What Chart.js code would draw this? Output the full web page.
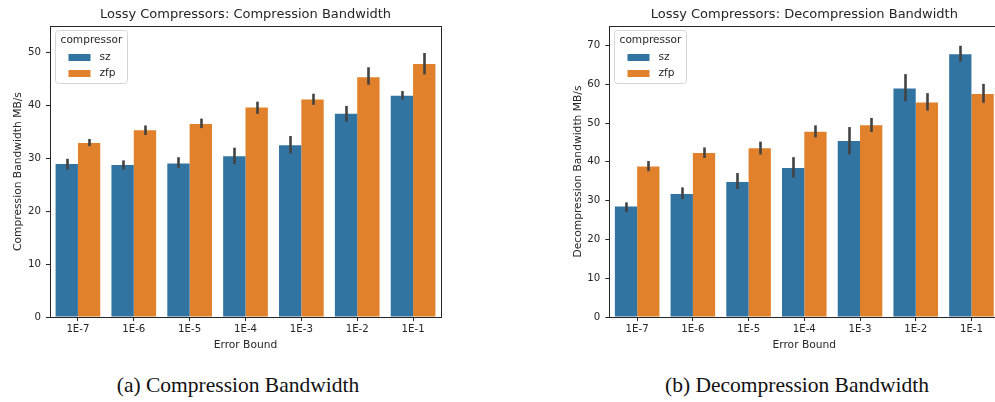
<!DOCTYPE html>
<html><head><meta charset="utf-8">
<script src="https://cdn.jsdelivr.net/npm/chart.js@4"></script>
<style>
html,body{margin:0;padding:0;width:995px;height:402px;overflow:hidden;background:#fff;}
.wrap{position:absolute;top:0;}
.cap{position:absolute;font-family:"Liberation Serif","DejaVu Serif",serif;font-size:21.5px;color:#111;white-space:nowrap;transform:translateX(-50%);line-height:1;}
</style></head><body>
<div class="wrap" style="left:0px;width:460px;height:360px"><canvas id="c1" width="460" height="360"></canvas></div>
<div class="wrap" style="left:560px;width:460px;height:360px"><canvas id="c2" width="460" height="360"></canvas></div>
<div class="cap" style="left:238px;top:375px">(a) Compression Bandwidth</div>
<div class="cap" style="left:797px;top:375px">(b) Decompression Bandwidth</div>
<script>
// ---- data ----
const errorBounds = ['1E-7','1E-6','1E-5','1E-4','1E-3','1E-2','1E-1'];
const seriesNames = ['sz','zfp'];

const compSz      = [28.9, 28.75, 29.0, 30.4, 32.45, 38.4, 41.8];
const compSzLow   = [27.9, 27.9, 28.2, 28.9, 30.9, 36.9, 41.1];
const compSzHigh  = [29.9, 29.6, 30.2, 32.0, 34.2, 39.9, 42.7];
const compZfp     = [32.9, 35.3, 36.5, 39.6, 41.1, 45.3, 47.8];
const compZfpLow  = [32.3, 34.4, 35.7, 38.4, 40.1, 43.9, 45.85];
const compZfpHigh = [33.65, 36.2, 37.5, 40.7, 42.2, 47.2, 49.9];

const decSz       = [28.5, 31.7, 34.8, 38.4, 45.35, 58.9, 67.7];
const decSzLow    = [27.05, 30.4, 33.0, 35.9, 41.9, 55.6, 65.8];
const decSzHigh   = [29.55, 33.4, 37.1, 41.2, 48.95, 62.6, 69.9];
const decZfp      = [38.8, 42.3, 43.5, 47.75, 49.4, 55.3, 57.45];
const decZfpLow   = [37.6, 41.0, 41.9, 46.3, 47.7, 53.2, 55.2];
const decZfpHigh  = [40.2, 43.7, 45.2, 49.4, 51.3, 57.7, 60.1];

const compTicks = [0, 10, 20, 30, 40, 50];
const decTicks  = [0, 10, 20, 30, 40, 50, 60, 70];

// ---- styles ----
const COLORS = ['#3274a1', '#e1812c'];
const FONT = 'DejaVu Sans';
const TXT = '#262626';

const plotTitlePlugin = {
  id: 'plotTitle',
  afterDraw(chart, args, opts) {
    const ctx = chart.ctx, a = chart.chartArea;
    ctx.save();
    ctx.fillStyle = TXT;
    ctx.font = '13px "' + FONT + '"';
    ctx.textAlign = 'center';
    ctx.textBaseline = 'middle';
    ctx.fillText(opts.text, (a.left + a.right) / 2, 14.5);
    ctx.restore();
  }
};

const errorBarPlugin = {
  id: 'errbars',
  afterDatasetsDraw(chart) {
    const ctx = chart.ctx, ys = chart.scales.y;
    ctx.save();
    ctx.strokeStyle = '#424242';
    ctx.lineWidth = 2.6;
    ctx.lineCap = 'butt';
    chart.data.datasets.forEach((ds, i) => {
      const meta = chart.getDatasetMeta(i);
      meta.data.forEach((el, j) => {
        const y1 = ys.getPixelForValue(ds.errLow[j]);
        const y2 = ys.getPixelForValue(ds.errHigh[j]);
        ctx.beginPath();
        ctx.moveTo(Math.round(el.x) + 0.5, y1);
        ctx.lineTo(Math.round(el.x) + 0.5, y2);
        ctx.stroke();
      });
    });
    // frame (spines)
    const a = chart.chartArea;
    ctx.strokeStyle = '#262626';
    ctx.lineWidth = 1;
    ctx.strokeRect(Math.round(a.left) + 0.5, Math.round(a.top) + 0.5,
                   Math.round(a.right - a.left), Math.round(a.bottom - a.top));
    ctx.restore();
  }
};

const insideLegendPlugin = {
  id: 'insideLegend',
  afterDraw(chart) {
    const ctx = chart.ctx, a = chart.chartArea;
    const x0 = Math.round(a.left) + 5.5, y0 = Math.round(a.top) + 4.5;
    const w = 72, h = 53, r = 3;
    ctx.save();
    ctx.beginPath();
    ctx.moveTo(x0 + r, y0);
    ctx.arcTo(x0 + w, y0, x0 + w, y0 + h, r);
    ctx.arcTo(x0 + w, y0 + h, x0, y0 + h, r);
    ctx.arcTo(x0, y0 + h, x0, y0, r);
    ctx.arcTo(x0, y0, x0 + w, y0, r);
    ctx.closePath();
    ctx.fillStyle = 'rgba(255,255,255,0.85)';
    ctx.fill();
    ctx.strokeStyle = '#d6d6d6';
    ctx.lineWidth = 1;
    ctx.stroke();
    ctx.fillStyle = TXT;
    ctx.font = '10.6px "' + FONT + '"';
    ctx.textBaseline = 'middle';
    ctx.textAlign = 'center';
    ctx.fillText('compressor', x0 + w / 2, y0 + 10);
    ctx.textAlign = 'left';
    chart.data.datasets.forEach((ds, i) => {
      const cy = y0 + 27 + i * 16;
      ctx.fillStyle = ds.backgroundColor;
      ctx.fillRect(x0 + 13, cy - 3.5, 22, 7);
      ctx.fillStyle = TXT;
      ctx.fillText(ds.label, x0 + 44, cy);
    });
    ctx.restore();
  }
};

function makeChart(id, title, yTitle, vals, lows, highs, yMax, yTicks, yWidth, padRight) {
  const datasets = seriesNames.map((n, i) => ({
    label: n,
    data: vals[i],
    errLow: lows[i],
    errHigh: highs[i],
    backgroundColor: COLORS[i],
    borderWidth: 0,
    categoryPercentage: 0.8,
    barPercentage: 1.0
  }));
  return new Chart(document.getElementById(id), {
    type: 'bar',
    data: { labels: errorBounds, datasets },
    options: {
      responsive: false,
      animation: false,
      devicePixelRatio: 1,
      layout: { padding: { left: 0, right: padRight, top: 26, bottom: 0 } },
      plugins: {
        legend: { display: false },
        tooltip: { enabled: false },
        title: { display: false },
        plotTitle: { text: title }
      },
      scales: {
        x: {
          grid: { display: true, drawOnChartArea: false, drawTicks: true, tickLength: 4, color: '#262626', offset: false },
          border: { display: true, color: '#262626', width: 1 },
          ticks: { color: TXT, font: { family: FONT, size: 10.2 }, padding: 2, maxRotation: 0 },
          title: { display: true, text: 'Error Bound', color: TXT, font: { family: FONT, size: 10.7 }, padding: { top: 0, bottom: 8.4 } },
          afterFit(s) { s.height = 43; }
        },
        y: {
          min: 0, max: yMax,
          afterBuildTicks(s) { s.ticks = yTicks.map(v => ({ value: v })); },
          grid: { display: true, drawOnChartArea: false, drawTicks: true, tickLength: 4, color: '#262626' },
          border: { display: true, color: '#262626', width: 1 },
          ticks: { color: TXT, font: { family: FONT, size: 10.2 }, padding: 5 },
          title: { display: true, text: yTitle, color: TXT, font: { family: FONT, size: 10.7 }, padding: { top: 11.4, bottom: 0 } },
          afterFit(s) { s.width = yWidth; }
        }
      }
    },
    plugins: [errorBarPlugin, insideLegendPlugin, plotTitlePlugin]
  });
}

makeChart('c1', 'Lossy Compressors: Compression Bandwidth', 'Compression Bandwidth MB/s',
  [compSz, compZfp], [compSzLow, compZfpLow], [compSzHigh, compZfpHigh], 55, compTicks, 50, 19);
makeChart('c2', 'Lossy Compressors: Decompression Bandwidth', 'Decompression Bandwidth MB/s',
  [decSz, decZfp], [decSzLow, decZfpLow], [decSzHigh, decZfpHigh], 75, decTicks, 49.3, 20.7);
</script>
</body></html>
